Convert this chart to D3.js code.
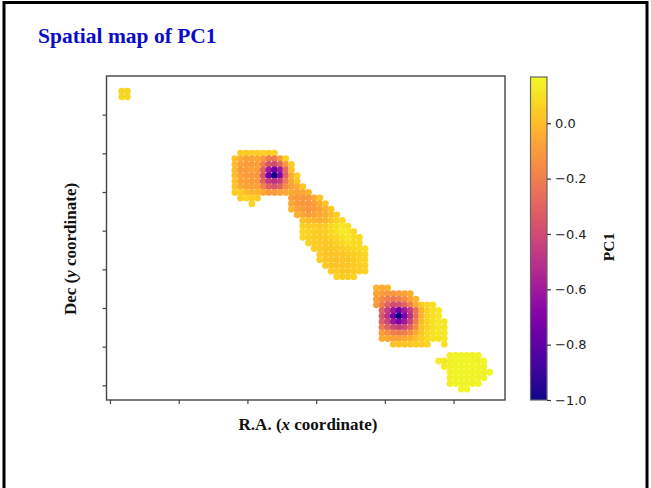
<!DOCTYPE html>
<html><head><meta charset="utf-8">
<script src="https://cdn.jsdelivr.net/npm/d3@7"></script>
<style>body{margin:0;background:#fff;overflow:hidden}</style>
</head><body><svg id="c" width="651" height="488"></svg>
<script>
// ---------- data ----------
const titleText = "Spatial map of PC1";
const xLabelText = ["R.A. (", "x", " coordinate)"];
const yLabelText = ["Dec (", "y", " coordinate)"];
const cbLabelText = "PC1";
const xTickValues = [-1.06, 11.08, 23.22, 35.36, 47.5, 59.64];
const yTickValues = [1.67, 8.55, 15.43, 22.31, 29.19, 36.07, 42.95, 49.83];
const cbTickValues = [0.0, -0.2, -0.4, -0.6, -0.8, -1.0];
const pcDomain = [-1.0, 0.167];
// rows: [dec index, first R.A. index, PC1 values along R.A.]
const clusterA = [
  [54, 1, [0.07, 0.07]],
  [53, 1, [0.07, 0.07]]
];
const clusterB = [
  [43, 22, [0.05, 0.04, 0.05, 0.05, 0.06, 0.04, 0.06]],
  [42, 21, [0.02, -0.04, -0.08, -0.08, -0.06, -0.1, -0.2, -0.22, -0.1, 0.06]],
  [41, 21, [0.0, -0.08, -0.1, -0.1, -0.08, -0.2, -0.35, -0.4, -0.3, -0.12, 0.05]],
  [40, 21, [0.0, -0.1, -0.1, -0.08, -0.1, -0.3, -0.6, -0.75, -0.6, -0.28, 0.02]],
  [39, 21, [0.0, -0.08, -0.1, -0.1, -0.12, -0.35, -0.75, -1.0, -0.7, -0.3, -0.05, 0.06]],
  [38, 21, [0.02, -0.08, -0.08, -0.1, -0.1, -0.3, -0.45, -0.5, -0.45, -0.22, -0.06, 0.03]],
  [37, 21, [0.03, -0.05, -0.08, -0.08, -0.08, -0.18, -0.3, -0.35, -0.3, -0.15, -0.08, -0.05, 0.02]],
  [36, 21, [0.05, 0.04, 0.0, -0.02, -0.02, -0.05, -0.1, -0.1, -0.08, -0.06, -0.05, -0.08, -0.06, -0.02]],
  [35, 22, [0.05, 0.06, 0.05, 0.04]],
  [34, 24, [0.06]]
];
const clusterC = [
  [35, 31, [-0.08, -0.1, -0.12, -0.1, -0.06, 0.02]],
  [34, 31, [-0.06, -0.1, -0.12, -0.12, -0.1, -0.05, 0.02]],
  [33, 31, [-0.02, -0.08, -0.1, -0.12, -0.1, -0.08, -0.03, 0.03]],
  [32, 32, [-0.03, -0.06, -0.1, -0.08, -0.06, -0.04, 0.0, 0.05]],
  [31, 33, [0.02, 0.0, -0.02, -0.03, -0.02, 0.02, 0.06, 0.08]],
  [30, 33, [0.06, 0.05, 0.04, 0.03, 0.04, 0.08, 0.1, 0.12, 0.1]],
  [29, 33, [0.08, 0.07, 0.05, 0.04, 0.05, 0.08, 0.1, 0.13, 0.12, 0.08]],
  [28, 33, [0.08, 0.06, 0.05, 0.04, 0.05, 0.06, 0.08, 0.1, 0.12, 0.1, 0.08]],
  [27, 34, [0.06, 0.05, 0.04, 0.03, 0.04, 0.06, 0.08, 0.1, 0.09, 0.08]],
  [26, 35, [0.05, 0.04, 0.03, 0.03, 0.04, 0.05, 0.06, 0.08, 0.08, 0.1]],
  [25, 36, [0.04, 0.03, 0.02, 0.02, 0.03, 0.04, 0.05, 0.06, 0.08]],
  [24, 36, [0.05, 0.03, 0.02, 0.01, 0.02, 0.03, 0.04, 0.06, 0.07]],
  [23, 37, [0.04, 0.03, 0.02, 0.02, 0.03, 0.04, 0.05, 0.06]],
  [22, 38, [0.05, 0.04, 0.03, 0.03, 0.04, 0.05, 0.06]],
  [21, 39, [0.06, 0.05, 0.05, 0.06]]
];
const clusterD = [
  [19, 46, [-0.02, -0.05, -0.02]],
  [18, 46, [-0.08, -0.1, -0.12, -0.12, -0.1, -0.08, -0.04]],
  [17, 46, [-0.1, -0.15, -0.2, -0.22, -0.2, -0.15, -0.08, -0.02]],
  [16, 46, [-0.1, -0.2, -0.3, -0.4, -0.38, -0.3, -0.2, -0.05, 0.04, 0.08, 0.1]],
  [15, 47, [-0.3, -0.45, -0.6, -0.75, -0.6, -0.45, -0.25, -0.02, 0.06, 0.1, 0.12]],
  [14, 47, [-0.35, -0.5, -0.75, -1.0, -0.72, -0.5, -0.25, -0.02, 0.06, 0.1, 0.12]],
  [13, 47, [-0.3, -0.42, -0.6, -0.7, -0.6, -0.42, -0.2, 0.0, 0.06, 0.1, 0.12, 0.12]],
  [12, 47, [-0.22, -0.3, -0.4, -0.45, -0.4, -0.3, -0.15, 0.02, 0.06, 0.1, 0.12, 0.12]],
  [11, 47, [-0.1, -0.15, -0.2, -0.22, -0.2, -0.15, -0.06, 0.03, 0.08, 0.1, 0.12, 0.12]],
  [10, 47, [-0.05, -0.06, -0.08, -0.08, -0.06, -0.04, 0.0, 0.05, 0.08, 0.1, 0.1, 0.12]],
  [9, 49, [0.02, 0.02, 0.03, 0.03, 0.04, 0.05, 0.06]],
  [9, 58, [0.1]]
];
const clusterE = [
  [7, 59, [0.14, 0.15, 0.15, 0.15, 0.14, 0.15]],
  [6, 57, [0.13, 0.12, 0.14, 0.15, 0.15, 0.15, 0.15, 0.14, 0.15]],
  [5, 58, [0.13, 0.14, 0.15, 0.15, 0.16, 0.15, 0.15, 0.14]],
  [4, 59, [0.14, 0.15, 0.15, 0.16, 0.15, 0.15, 0.14, 0.15]],
  [3, 59, [0.14, 0.15, 0.15, 0.15, 0.15, 0.14, 0.15]],
  [2, 59, [0.14, 0.15, 0.15, 0.15, 0.14, 0.15]],
  [1, 61, [0.15, 0.15]]
];

// ---------- build points ----------
const points = [];
[clusterA, clusterB, clusterC, clusterD, clusterE].forEach(cl =>
  cl.forEach(([dec, ra0, vals]) => vals.forEach((v, i) => points.push({ra: ra0 + i, dec: dec, v: v}))));

// ---------- layout ----------
const svg = d3.select("#c");
const plot = {l: 106.5, r: 505, t: 76, b: 400};
const x = d3.scaleLinear().domain([-1.68, 68.73]).range([plot.l, plot.r]);
const y = d3.scaleLinear().domain([-0.94, 56.71]).range([plot.b, plot.t]);
const color = d3.scaleSequential(d3.interpolatePlasma).domain(pcDomain);

// slide border
svg.append("rect").attr("x", 4).attr("y", 2.5).attr("width", 643).attr("height", 520)
  .attr("fill", "none").attr("stroke", "#000").attr("stroke-width", 3);

// title
svg.append("text").attr("x", 38).attr("y", 43)
  .attr("font-family", "Liberation Serif, Times New Roman, serif").attr("font-weight", "bold")
  .attr("font-size", 21.5).attr("fill", "#0c0cc8").text(titleText);

// points
svg.append("g").selectAll("circle").data(points).join("circle")
  .attr("cx", d => x(d.ra)).attr("cy", d => y(d.dec)).attr("r", 3.4)
  .attr("fill", d => color(d.v));

// axes
const gx = svg.append("g").attr("transform", `translate(0,${plot.b})`)
  .call(d3.axisBottom(x).tickValues(xTickValues).tickFormat("").tickSize(4).tickSizeOuter(0));
const gy = svg.append("g").attr("transform", `translate(${plot.l},0)`)
  .call(d3.axisLeft(y).tickValues(yTickValues).tickFormat("").tickSize(4).tickSizeOuter(0));
[gx, gy].forEach(g => { g.select(".domain").remove(); g.selectAll("line").attr("stroke", "#444").attr("stroke-width", 1.2); });

// frame
svg.append("rect").attr("x", plot.l).attr("y", plot.t).attr("width", plot.r - plot.l).attr("height", plot.b - plot.t)
  .attr("fill", "none").attr("stroke", "#444").attr("stroke-width", 1.4);

// axis labels
const serif = "Liberation Serif, Times New Roman, serif";
const xl = svg.append("text").attr("x", 308).attr("y", 430).attr("text-anchor", "middle")
  .attr("font-family", serif).attr("font-weight", "bold").attr("font-size", 17).attr("fill", "#111");
xl.append("tspan").text(xLabelText[0]);
xl.append("tspan").attr("font-style", "italic").text(xLabelText[1]);
xl.append("tspan").text(xLabelText[2]);
const yl = svg.append("text").attr("transform", "translate(76,249) rotate(-90)").attr("text-anchor", "middle")
  .attr("font-family", serif).attr("font-weight", "bold").attr("font-size", 17).attr("fill", "#111");
yl.append("tspan").text(yLabelText[0]);
yl.append("tspan").attr("font-style", "italic").text(yLabelText[1]);
yl.append("tspan").text(yLabelText[2]);

// colorbar
const cb = {x: 530.5, w: 16.5, t: 77, b: 400};
const cbY = d3.scaleLinear().domain(pcDomain).range([cb.b, cb.t]);
const grad = svg.append("defs").append("linearGradient").attr("id", "cbg")
  .attr("x1", 0).attr("y1", 1).attr("x2", 0).attr("y2", 0);
d3.range(0, 1.0001, 0.02).forEach(t => grad.append("stop").attr("offset", t).attr("stop-color", d3.interpolatePlasma(t)));
svg.append("rect").attr("x", cb.x).attr("y", cb.t).attr("width", cb.w).attr("height", cb.b - cb.t)
  .attr("fill", "url(#cbg)").attr("stroke", "#666").attr("stroke-width", 1.2);
const gcb = svg.append("g").attr("transform", `translate(${cb.x + cb.w},0)`)
  .call(d3.axisRight(cbY).tickValues(cbTickValues).tickFormat(d3.format(".1f")).tickSize(4).tickPadding(4));
gcb.select(".domain").remove();
gcb.selectAll("line").attr("stroke", "#333").attr("stroke-width", 1.2);
gcb.selectAll("text").attr("font-family", "DejaVu Sans, sans-serif").attr("font-size", 13).attr("fill", "#222");
svg.append("text").attr("transform", "translate(614,247) rotate(-90)").attr("text-anchor", "middle")
  .attr("font-family", serif).attr("font-weight", "bold").attr("font-size", 15.5).attr("fill", "#111").text(cbLabelText);
</script></body></html>
